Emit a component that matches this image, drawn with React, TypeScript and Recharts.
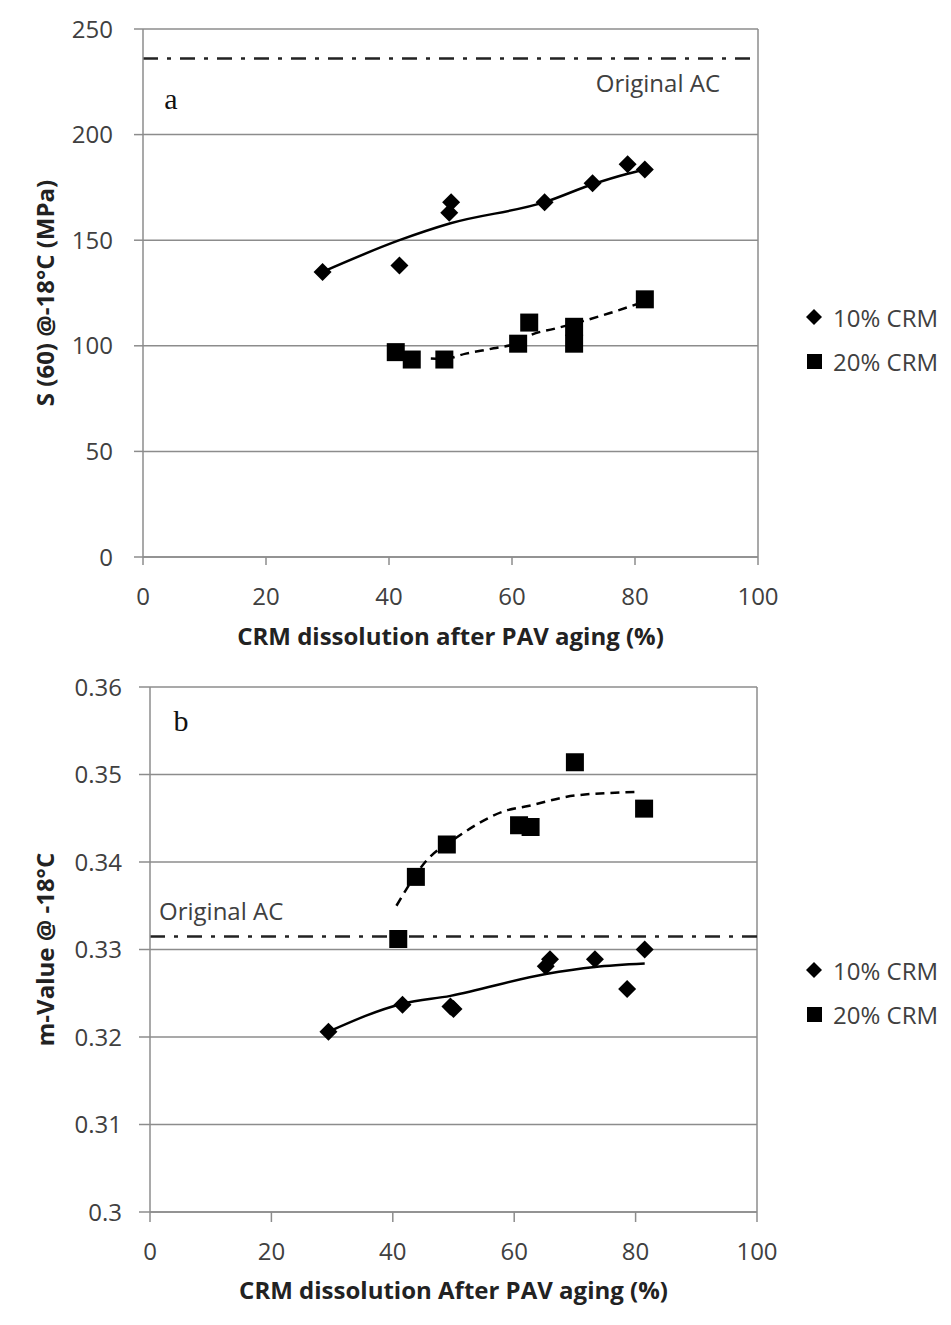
import React from "react";
import {
  ComposedChart,
  Scatter,
  Line,
  XAxis,
  YAxis,
  CartesianGrid,
  ReferenceLine,
  Legend,
  Customized,
} from "recharts";

const FONT = "'Open Sans', sans-serif";
const GRID = "#8c8c8c";
const TEXT = "#404040";

// shared x axis
const dissolutionTicks = [0, 20, 40, 60, 80, 100];

// panel a: S(60) @ -18°C (MPa)
const stiffCrm10 = [
  { x: 29.2, y: 135 },
  { x: 41.7, y: 138 },
  { x: 49.8, y: 163 },
  { x: 50.1, y: 168 },
  { x: 65.3, y: 168 },
  { x: 73.1, y: 177 },
  { x: 78.8, y: 186 },
  { x: 81.6, y: 183.5 },
];
const stiffCrm20 = [
  { x: 41.1, y: 97 },
  { x: 43.7, y: 93.5 },
  { x: 49.0, y: 93.5 },
  { x: 61.0, y: 101 },
  { x: 62.8, y: 111 },
  { x: 70.1, y: 109 },
  { x: 70.1, y: 101 },
  { x: 81.6, y: 122 },
];
const stiffTrend10 = [
  { x: 29.2, y: 135 },
  { x: 41.7, y: 150 },
  { x: 50.0, y: 158 },
  { x: 65.3, y: 168 },
  { x: 73.1, y: 176.5 },
  { x: 78.8, y: 181.5 },
  { x: 81.6, y: 183.5 },
];
const stiffTrend20 = [
  { x: 46.8, y: 94 },
  { x: 49.0, y: 93.8 },
  { x: 52.5, y: 96.3 },
  { x: 57.0, y: 98.8 },
  { x: 61.0, y: 101.5 },
  { x: 63.0, y: 105 },
  { x: 66.8, y: 108 },
  { x: 70.1, y: 110.5 },
  { x: 75.8, y: 115.4 },
  { x: 81.6, y: 121 },
];
const stiffOriginal = 236;
const stiffTicks = [0, 50, 100, 150, 200, 250];

// panel b: m-value @ -18°C
const mvalCrm10 = [
  { x: 29.4, y: 0.3206 },
  { x: 41.6, y: 0.3237 },
  { x: 49.5, y: 0.3235 },
  { x: 50.0, y: 0.3232 },
  { x: 65.2, y: 0.3281 },
  { x: 65.9, y: 0.3289 },
  { x: 73.3, y: 0.3289 },
  { x: 78.6, y: 0.3255 },
  { x: 81.5, y: 0.33 },
];
const mvalCrm20 = [
  { x: 40.9, y: 0.3312 },
  { x: 43.8, y: 0.3383 },
  { x: 48.9, y: 0.342 },
  { x: 60.8, y: 0.3442 },
  { x: 62.7, y: 0.344 },
  { x: 70.0, y: 0.3514 },
  { x: 81.4, y: 0.3461 },
];
const mvalTrend10 = [
  { x: 29.4, y: 0.3206 },
  { x: 41.6, y: 0.3238 },
  { x: 49.5, y: 0.3247 },
  { x: 65.2, y: 0.3272 },
  { x: 73.3, y: 0.328 },
  { x: 81.5, y: 0.3284 },
];
const mvalTrend20 = [
  { x: 40.6, y: 0.335 },
  { x: 45.6, y: 0.3402 },
  { x: 50.5, y: 0.3428 },
  { x: 58.8, y: 0.3459 },
  { x: 62.3, y: 0.3464 },
  { x: 70.0, y: 0.3476 },
  { x: 80.2, y: 0.348 },
];
const mvalOriginal = 0.3315;
const mvalTicks = [0.3, 0.31, 0.32, 0.33, 0.34, 0.35, 0.36];

const Diamond = (props: any) => {
  const { cx, cy } = props;
  const r = 9;
  return (
    <polygon
      points={`${cx},${cy - r} ${cx + r},${cy} ${cx},${cy + r} ${cx - r},${cy}`}
      fill="#000"
    />
  );
};

const Square = (props: any) => {
  const { cx, cy } = props;
  const s = 9;
  return <rect x={cx - s} y={cy - s} width={2 * s} height={2 * s} fill="#000" />;
};

// only the marker series go in the legend, trend lines are left out
const renderLegend = (props: any) => {
  const items = (props.payload || []).filter(
    (entry: any) => entry.type !== "none" && String(entry.value).includes("CRM")
  );
  return (
    <div style={{ fontFamily: FONT, fontSize: 24, color: TEXT }}>
      {items.map((entry: any, i: number) => (
        <div key={`leg-${i}`} style={{ display: "flex", alignItems: "center", height: 44 }}>
          <svg width={32} height={24}>
            {entry.value === "10% CRM" ? (
              <polygon points="13,4 21,12 13,20 5,12" fill="#000" />
            ) : (
              <rect x={6} y={5} width={15} height={15} fill="#000" />
            )}
          </svg>
          <span>{entry.value}</span>
        </div>
      ))}
    </div>
  );
};

const tickStyle = { fill: TEXT, fontSize: 24, fontFamily: FONT };
const titleStyle = { fill: "#222", fontSize: 24, fontFamily: FONT, fontWeight: 700 };

const StiffnessPanel = () => (
  <ComposedChart width={951} height={660} margin={{ top: 29, right: 193, bottom: 0, left: 0 }}>
    <CartesianGrid vertical={false} stroke={GRID} strokeWidth={1.5} />
    <XAxis
      type="number"
      dataKey="x"
      domain={[0, 100]}
      ticks={dissolutionTicks}
      height={103}
      tickSize={8}
      tickMargin={23}
      stroke={GRID}
      strokeWidth={1.5}
      tick={tickStyle}
      label={{
        value: "CRM dissolution after PAV aging (%)",
        position: "insideBottom",
        offset: 15,
        style: titleStyle,
      }}
    />
    <YAxis
      type="number"
      dataKey="y"
      domain={[0, 250]}
      ticks={stiffTicks}
      width={143}
      tickSize={9}
      tickMargin={21}
      stroke={GRID}
      strokeWidth={1.5}
      tick={tickStyle}
      label={{
        value: "S (60) @-18°C (MPa)",
        angle: -90,
        position: "insideLeft",
        offset: 45,
        style: { ...titleStyle, textAnchor: "middle" },
      }}
    />
    <ReferenceLine x={100} stroke={GRID} strokeWidth={1.5} />
    <ReferenceLine
      y={stiffOriginal}
      stroke="#222"
      strokeWidth={2.5}
      strokeDasharray="15 9 4 9"
      label={(p: any) => (
        <text
          x={p.viewBox.x + p.viewBox.width - 38}
          y={p.viewBox.y + 24}
          textAnchor="end"
          dominantBaseline="central"
          style={{ fill: TEXT, fontSize: 24, fontFamily: FONT }}
        >
          Original AC
        </text>
      )}
    />
    <Line
      data={stiffTrend10}
      dataKey="y"
      name="trend 10"
      type="monotone"
      stroke="#000"
      strokeWidth={2.5}
      dot={false}
      legendType="none"
      isAnimationActive={false}
    />
    <Line
      data={stiffTrend20}
      dataKey="y"
      name="trend 20"
      type="monotone"
      stroke="#000"
      strokeWidth={2.5}
      strokeDasharray="9 6"
      dot={false}
      legendType="none"
      isAnimationActive={false}
    />
    <Scatter name="10% CRM" data={stiffCrm10} dataKey="y" shape={Diamond} isAnimationActive={false} />
    <Scatter name="20% CRM" data={stiffCrm20} dataKey="y" shape={Square} isAnimationActive={false} />
    <Legend
      layout="vertical"
      align="center"
      verticalAlign="middle"
      content={renderLegend}
      wrapperStyle={{ left: 801, top: 295, width: 150 }}
    />
    <Customized
      component={() => (
        <text x={171} y={109} textAnchor="middle" style={{ fontFamily: "'Liberation Serif', serif", fontSize: 30, fill: "#111" }}>
          a
        </text>
      )}
    />
  </ComposedChart>
);

const MValuePanel = () => (
  <ComposedChart width={951} height={665} margin={{ top: 27, right: 194, bottom: 0, left: 0 }}>
    <CartesianGrid vertical={false} stroke={GRID} strokeWidth={1.5} />
    <XAxis
      type="number"
      dataKey="x"
      domain={[0, 100]}
      ticks={dissolutionTicks}
      height={113}
      tickSize={10}
      tickMargin={21}
      stroke={GRID}
      strokeWidth={1.5}
      tick={tickStyle}
      label={{
        value: "CRM dissolution After PAV aging (%)",
        position: "insideBottom",
        offset: 26,
        style: titleStyle,
      }}
    />
    <YAxis
      type="number"
      dataKey="y"
      domain={[0.3, 0.36]}
      ticks={mvalTicks}
      width={150}
      tickSize={11}
      tickMargin={17}
      stroke={GRID}
      strokeWidth={1.5}
      tick={tickStyle}
      label={{
        value: "m-Value @ -18°C",
        angle: -90,
        position: "insideLeft",
        offset: 45,
        style: { ...titleStyle, textAnchor: "middle" },
      }}
    />
    <ReferenceLine x={100} stroke={GRID} strokeWidth={1.5} />
    <ReferenceLine
      y={mvalOriginal}
      stroke="#222"
      strokeWidth={2.5}
      strokeDasharray="15 9 4 9"
      label={(p: any) => (
        <text
          x={p.viewBox.x + 9}
          y={p.viewBox.y - 26}
          textAnchor="start"
          dominantBaseline="central"
          style={{ fill: TEXT, fontSize: 24, fontFamily: FONT }}
        >
          Original AC
        </text>
      )}
    />
    <Line
      data={mvalTrend10}
      dataKey="y"
      name="trend 10"
      type="monotone"
      stroke="#000"
      strokeWidth={2.5}
      dot={false}
      legendType="none"
      isAnimationActive={false}
    />
    <Line
      data={mvalTrend20}
      dataKey="y"
      name="trend 20"
      type="monotone"
      stroke="#000"
      strokeWidth={2.5}
      strokeDasharray="9 6"
      dot={false}
      legendType="none"
      isAnimationActive={false}
    />
    <Scatter name="10% CRM" data={mvalCrm10} dataKey="y" shape={Diamond} isAnimationActive={false} />
    <Scatter name="20% CRM" data={mvalCrm20} dataKey="y" shape={Square} isAnimationActive={false} />
    <Legend
      layout="vertical"
      align="center"
      verticalAlign="middle"
      content={renderLegend}
      wrapperStyle={{ left: 801, top: 288, width: 150 }}
    />
    <Customized
      component={() => (
        <text x={181} y={71} textAnchor="middle" style={{ fontFamily: "'Liberation Serif', serif", fontSize: 30, fill: "#111" }}>
          b
        </text>
      )}
    />
  </ComposedChart>
);

export default function App() {
  return (
    <div style={{ position: "absolute", left: 0, top: 0, width: 951, height: 1325, background: "#fff" }}>
      <div style={{ position: "absolute", left: 0, top: 0 }}>
        <StiffnessPanel />
      </div>
      <div style={{ position: "absolute", left: 0, top: 660 }}>
        <MValuePanel />
      </div>
    </div>
  );
}
